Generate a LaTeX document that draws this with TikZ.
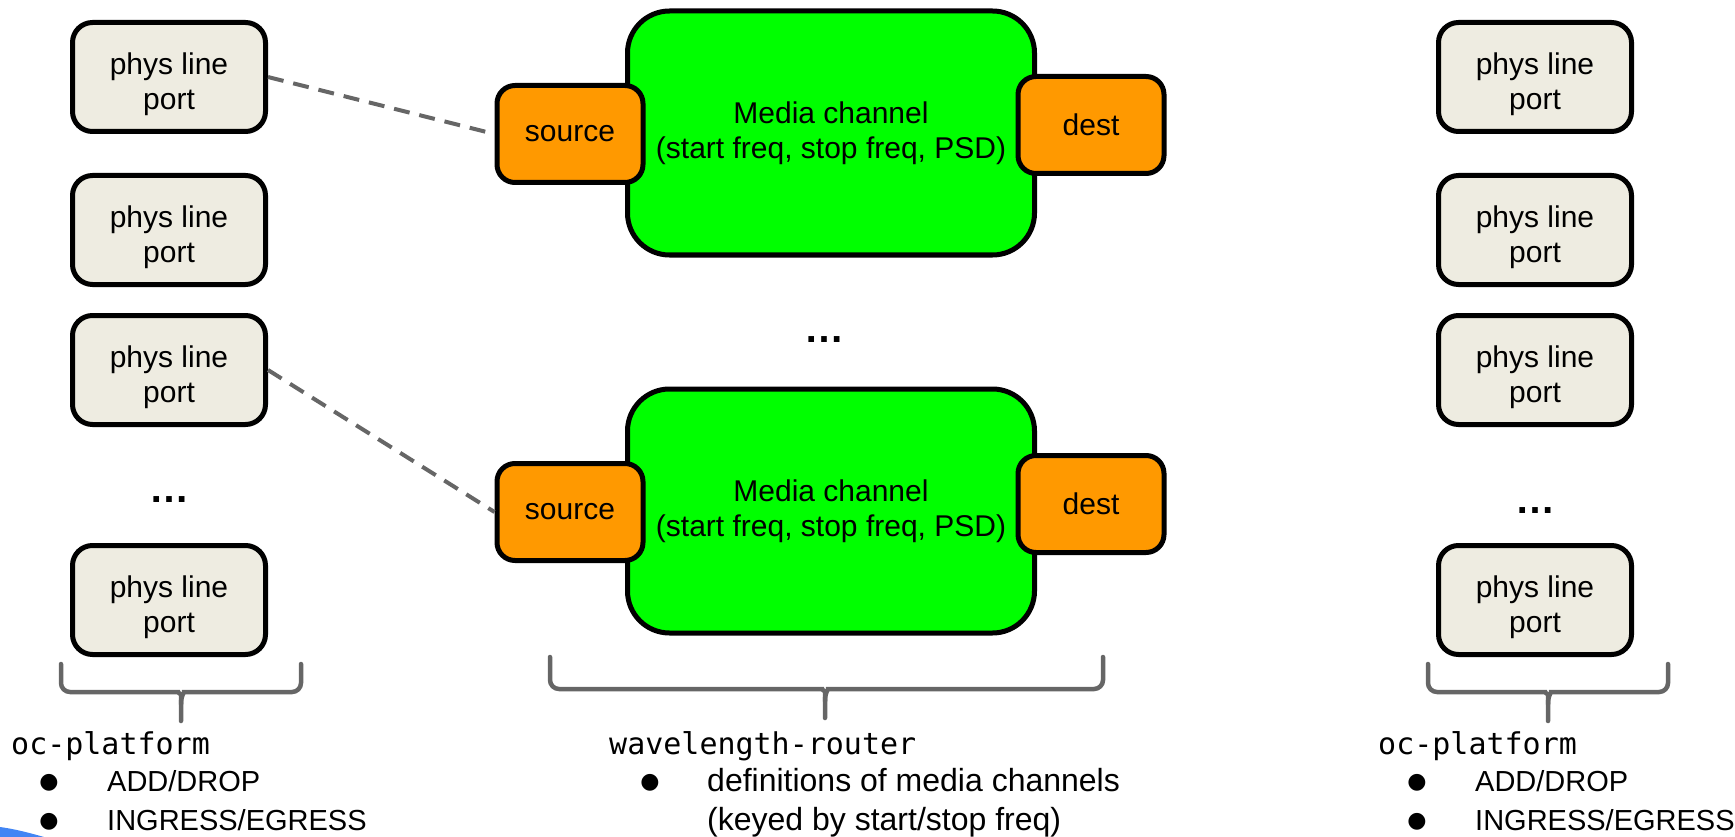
\documentclass[tikz,border=0pt]{standalone}
\usepackage{fontspec}
\setmainfont{Liberation Sans}
\setmonofont{DejaVu Sans Mono}
\newfontfamily\symfont{DejaVu Sans}
\definecolor{portfill}{HTML}{EEECE1}
\definecolor{chgreen}{HTML}{00FF00}
\definecolor{orng}{HTML}{FF9900}
\definecolor{linkgray}{HTML}{666666}
\definecolor{cornerblue}{HTML}{4285F4}
\newcommand\boxfont{\fontsize{30}{35}\selectfont}
\newcommand\capsfont{\fontsize{29}{35}\selectfont}
\newcommand\lowfont{\fontsize{32}{38}\selectfont}
\newcommand\monofnt{\fontsize{30}{35}\selectfont\ttfamily}
\newcommand\dotsfnt{\fontsize{40}{40}\selectfont\bfseries}
\newcommand\twoline[2]{\raisebox{-8pt}[\height][\depth]{\begin{tabular}{@{}c@{}}#1\\#2\end{tabular}}}
\begin{document}
\begin{tikzpicture}[x=1pt,y=-1pt,
  port/.style={draw=black,line width=5pt,fill=portfill,rounded corners=20pt,minimum width=193pt,minimum height=109pt,inner sep=0pt,font=\boxfont},
  chan/.style={draw=black,line width=5pt,fill=chgreen,rounded corners=42pt,minimum width=407pt,minimum height=244pt,inner sep=0pt,align=center,font=\boxfont},
  term/.style={draw=black,line width=5pt,fill=orng,rounded corners=18pt,minimum width=146pt,minimum height=97pt,inner sep=0pt,font=\boxfont},
  link/.style={draw=linkgray,line width=4pt,dash pattern=on 16pt off 10pt},
  brace/.style={draw=linkgray,line width=4.5pt,rounded corners=9pt,line cap=round},
  more/.style={font=\dotsfnt,inner sep=0pt,anchor=base},
  title/.style={font=\monofnt,inner sep=0pt,anchor=base west},
  item/.style={font=\capsfont,inner sep=0pt,anchor=base west},
  itemlow/.style={font=\lowfont,inner sep=0pt,anchor=base west},
  bul/.style={font=\symfont\fontsize{22}{22}\selectfont,inner sep=0pt}]
\useasboundingbox (0,0) rectangle (1735,837);

% left column of ports
\node[port] (L1) at (169,77) {\twoline{phys line}{port}};
\node[port] (L2) at (169,230) {\twoline{phys line}{port}};
\node[port] (L3) at (169,370) {\twoline{phys line}{port}};
\node[more] (Ld) at (169,502) {…};
\node[port] (L5) at (169,600) {\twoline{phys line}{port}};

% right column of ports
\node[port] (R1) at (1535,77) {\twoline{phys line}{port}};
\node[port] (R2) at (1535,230) {\twoline{phys line}{port}};
\node[port] (R3) at (1535,370) {\twoline{phys line}{port}};
\node[more] (Rd) at (1535,513) {…};
\node[port] (R5) at (1535,600) {\twoline{phys line}{port}};

% media channels
\node[chan] (C1) at (831,133) {Media channel\\(start freq, stop freq, PSD)};
\node[term] (S1) at (570,134) {source};
\node[term] (D1) at (1091,125) {dest};
\node[more] (Cd) at (824,342) {…};
\node[chan] (C2) at (831,511) {Media channel\\(start freq, stop freq, PSD)};
\node[term] (S2) at (570,512) {source};
\node[term] (D2) at (1091,504) {dest};

% links
\draw[link] (L1.east) -- (S1.west);
\draw[link] (L3.east) -- (S2.west);

% braces
\draw[brace] (61,664) -- (61,692) -- (169,692) .. controls (177,692) and (181,694) .. (181,704) -- (181,721);
\draw[brace] (301,664) -- (301,692) -- (193,692) .. controls (185,692) and (181,694) .. (181,704);
\draw[brace] (550,657) -- (550,689) -- (813,689) .. controls (821,689) and (825,691) .. (825,701) -- (825,718);
\draw[brace] (1103,657) -- (1103,689) -- (837,689) .. controls (829,689) and (825,691) .. (825,701);
\draw[brace] (1428,664) -- (1428,692) -- (1536,692) .. controls (1544,692) and (1548,694) .. (1548,704) -- (1548,721);
\draw[brace] (1668,664) -- (1668,692) -- (1560,692) .. controls (1552,692) and (1548,694) .. (1548,704);

% left label
\node[title] (Lt) at (11,754) {oc-platform};
\node[bul] (Lb1) at (49,783) {●};
\node[item] (Li1) at (107,791) {ADD/DROP};
\node[bul] (Lb2) at (49,822) {●};
\node[item] (Li2) at (107,830) {INGRESS/EGRESS};

% middle label
\node[title] (Mt) at (609,754) {wavelength-router};
\node[bul] (Mb1) at (650,783) {●};
\node[itemlow] (Mi1) at (707,791) {definitions of media channels};
\node[itemlow] (Mi2) at (707,830) {(keyed by start/stop freq)};

% right label
\node[title] (Rt) at (1378,754) {oc-platform};
\node[bul] (Rb1) at (1417,783) {●};
\node[item] (Ri1) at (1475,791) {ADD/DROP};
\node[bul] (Rb2) at (1417,822) {●};
\node[item] (Ri2) at (1475,830) {INGRESS/EGRESS};

% corner decoration
\fill[cornerblue] (0,827) .. controls (15,829) and (30,833) .. (44,837) -- (0,837) -- cycle;
\end{tikzpicture}
\end{document}
